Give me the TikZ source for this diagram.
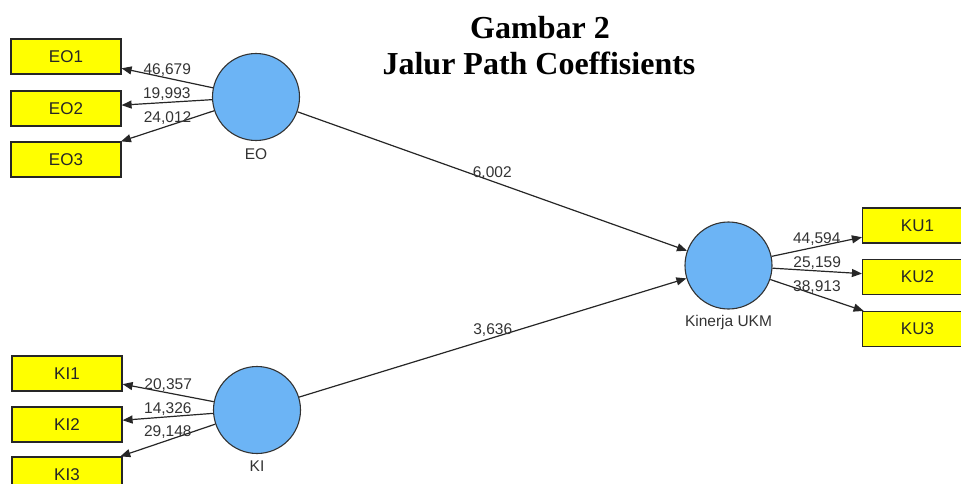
\documentclass[tikz,border=0pt]{standalone}
\usepackage{fontspec}
\setmainfont{Liberation Sans}
\newfontfamily\titlefont{Liberation Serif}
\usetikzlibrary{arrows.meta}
\definecolor{latentblue}{RGB}{108,180,245}
\definecolor{indyellow}{RGB}{255,255,0}
\tikzset{
  indbox/.style={draw=black!85, fill=indyellow, line width=1.2pt, minimum width=110pt,
    minimum height=35pt, inner sep=0pt, font=\fontsize{17}{17}\selectfont, text=black!85},
  latent/.style={circle, draw=black!80, fill=latentblue, line width=1.1pt,
    minimum size=87pt, inner sep=0pt},
  clbl/.style={font=\fontsize{15.5}{15.5}\selectfont, text=black!80, inner sep=1pt},
  rel/.style={draw=black!85, line width=1.2pt, -{Triangle[length=10pt,width=8pt]}},
  coef/.style={font=\fontsize{15.5}{15.5}\selectfont, text=black!80, inner sep=1pt, midway, above},
  ttl/.style={font=\titlefont\bfseries\fontsize{32}{36}\selectfont, anchor=base, inner sep=0pt}
}
\begin{document}
\begin{tikzpicture}[x=1pt,y=-1pt]
\useasboundingbox (0,0) rectangle (961,484);
% title
\node[ttl] (ttlA) at (540,39) {Gambar 2};
\node[ttl] (ttlB) at (539,75) {Jalur Path Coeffisients};
% latent variables
\node[latent, label={[clbl,label distance=6pt]below:EO}] (EO) at (256,97) {};
\node[latent, label={[clbl,label distance=6pt]below:KI}] (KI) at (257,410) {};
\node[latent, label={[clbl,label distance=5pt]below:Kinerja UKM}] (KU) at (728.5,265.5) {};
% indicators
\node[indbox] (EO1) at (66,56.5) {EO1};
\node[indbox] (EO2) at (66,108.5) {EO2};
\node[indbox] (EO3) at (66,159.5) {EO3};
\node[indbox] (KI1) at (67,373.5) {KI1};
\node[indbox] (KI2) at (67,424.5) {KI2};
\node[indbox] (KI3) at (67,474.5) {KI3};
\node[indbox] (KU1) at (917.5,225.5) {KU1};
\node[indbox] (KU2) at (917.5,277) {KU2};
\node[indbox] (KU3) at (917.5,329) {KU3};
% outer loadings
\draw[rel] (EO) -- (EO1) node[coef] {46,679};
\draw[rel] (EO) -- (EO2) node[coef] {19,993};
\draw[rel] (EO) -- (EO3) node[coef] {24,012};
\draw[rel] (KI) -- (KI1) node[coef] {20,357};
\draw[rel] (KI) -- (KI2) node[coef] {14,326};
\draw[rel] (KI) -- (KI3) node[coef] {29,148};
\draw[rel] (KU) -- (KU1) node[coef] {44,594};
\draw[rel] (KU) -- (KU2) node[coef] {25,159};
\draw[rel] (KU) -- (KU3) node[coef] {38,913};
% inner model
\draw[rel] (EO) -- (KU) node[coef] {6,002};
\draw[rel] (KI) -- (KU) node[coef] {3,636};
\end{tikzpicture}
\end{document}
